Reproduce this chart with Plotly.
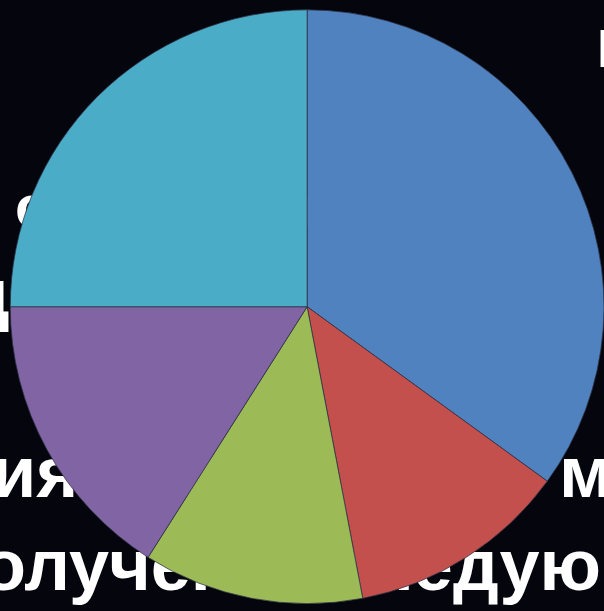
import plotly.graph_objects as go

# Pie data (Office palette, clockwise from 12 o'clock)
categories = ["Категория 1", "Категория 2", "Категория 3", "Категория 4", "Категория 5"]
values = [35, 12, 12, 16, 25]
colors = ["#4f82bf", "#c4504d", "#9cbb57", "#8064a3", "#4aacc6"]

# Background slide text fragments (partly hidden behind the pie)
bg_texts = ["Результаты", "сравнения", "единиц", "ия анкетиров", "мы", "олучены", "следующие"]
bg_x = [597, 15, 9, -8, 559, -18, 328]
bg_y = [53, 212, 300, 479, 479, 572, 572]
bg_pos = ["middle right", "middle right", "middle left", "middle right", "middle right",
          "middle right", "middle right"]
bg_size = [54, 60, 70, 72, 72, 72, 72]

FONT = "Liberation Sans Narrow, Liberation Sans, Arial, sans-serif"

fig = go.Figure()

fig.add_trace(go.Scatter(
    x=bg_x, y=bg_y, mode="text",
    text=["<b>%s</b>" % t for t in bg_texts],
    textposition=bg_pos,
    textfont=dict(family=FONT, size=bg_size, color="white"),
    hoverinfo="skip", showlegend=False, cliponaxis=True,
))

fig.add_trace(go.Pie(
    labels=categories, values=values, sort=False, direction="clockwise",
    rotation=0, textinfo="none", hoverinfo="label+value",
    marker=dict(colors=colors, line=dict(color="rgba(45,50,70,0.75)", width=1)),
    domain=dict(x=[0.017, 1.0], y=[0.012, 0.984]),
    showlegend=False,
))

fig.update_layout(
    width=604, height=611,
    margin=dict(l=0, r=0, t=0, b=0),
    paper_bgcolor="#05060d", plot_bgcolor="#05060d",
    xaxis=dict(range=[0, 604], visible=False, domain=[0, 1], fixedrange=True),
    yaxis=dict(range=[611, 0], visible=False, domain=[0, 1], fixedrange=True),
    showlegend=False,
)

fig.write_html(
    "out.html",
    config={"displayModeBar": False},
    post_script="document.body.style.margin='0';document.body.style.background='#05060d';"
                "document.body.style.overflow='hidden';",
)
